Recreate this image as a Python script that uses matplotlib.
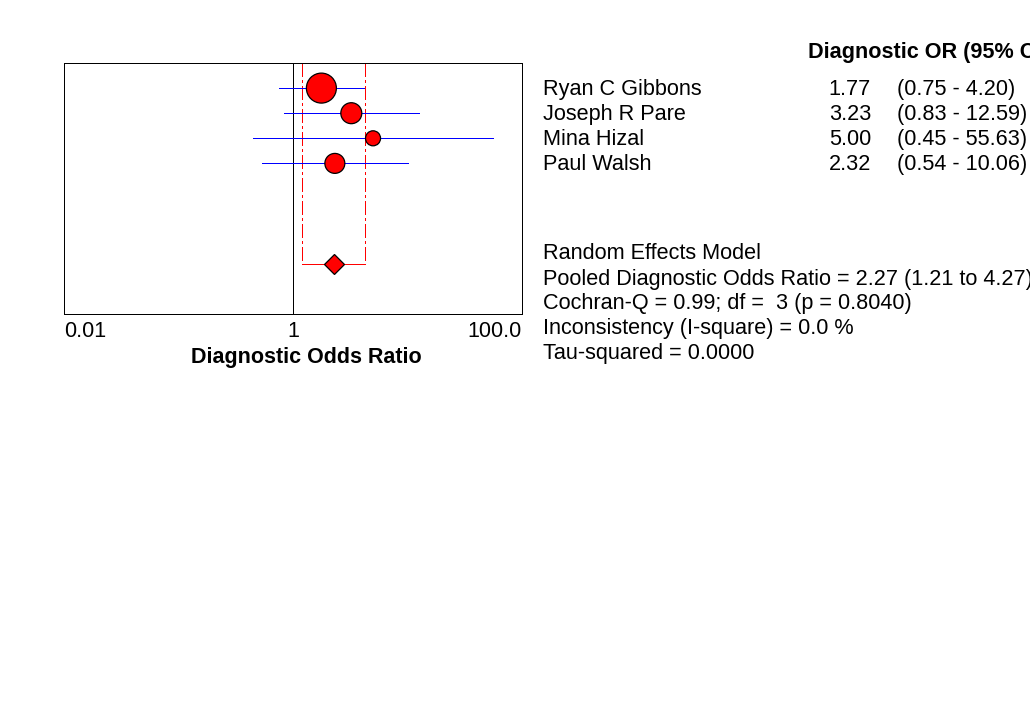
import matplotlib
matplotlib.use("Agg")
import matplotlib.pyplot as plt
import matplotlib.transforms as mtransforms
import numpy as np

plt.rcParams['font.family'] = ['Liberation Sans', 'DejaVu Sans']
plt.rcParams['lines.scale_dashes'] = False

# --------------------------------------------------------------------------
# Data
# --------------------------------------------------------------------------
studies = ["Ryan C Gibbons", "Joseph R Pare", "Mina Hizal", "Paul Walsh"]
dor = [1.77, 3.23, 5.00, 2.32]
ci_lo = [0.75, 0.83, 0.45, 0.54]
ci_hi = [4.20, 12.59, 55.63, 10.06]
weights = [45.8, 22.4, 11.5, 20.3]

pooled = 2.27
pooled_lo = 1.21
pooled_hi = 4.27
cochran_q = 0.99
q_df = 3
q_p = 0.8040
i_square = 0.0
tau_sq = 0.0

tick_values = [0.01, 1, 100]
tick_labels = ["0.01", "1", "100.0"]

# --------------------------------------------------------------------------
# Figure
# --------------------------------------------------------------------------
W, H = 1030, 726
fig = plt.figure(figsize=(W / 100, H / 100), dpi=100)
ax = fig.add_axes([64 / W, 1 - 314 / H, (522 - 64) / W, (314 - 63) / H])

px = 0.72  # one pixel in points
ypos = np.arange(1, len(studies) + 1)
y_pool = 8

ax.set_xscale('log')
ax.set_xlim(0.01, 100)
ax.set_ylim(10, 0)

# line of no effect
ax.axvline(1, color='black', lw=px, antialiased=False, zorder=1)

# pooled CI bracket
for xv in (pooled_lo, pooled_hi):
    ax.plot([xv, xv], [0, y_pool], color='red', lw=px, antialiased=False,
            dashes=(9.5, 2.2, 1.6, 2.2), zorder=1)
ax.plot([pooled_lo, pooled_hi], [y_pool, y_pool], color='red', lw=px,
        antialiased=False, zorder=1)

# study CIs and point estimates
ax.hlines(ypos, ci_lo, ci_hi, color='blue', lw=px, antialiased=False, zorder=2)
diam_pt = 4.43 * np.sqrt(np.array(weights)) * px
ax.scatter(dor, ypos, s=diam_pt ** 2, color='red', edgecolor='black',
           linewidth=0.9, zorder=3)
ax.plot([pooled], [y_pool], marker='D', ms=13.5 * px, color='red',
        mec='black', mew=0.9, zorder=3)

for sp in ax.spines.values():
    sp.set_linewidth(px)
    sp.set_antialiased(False)

ax.set_yticks([])
ax.set_xticks(tick_values)
ax.set_xticklabels(tick_labels, fontsize=15.5)
ax.minorticks_off()
ax.tick_params(axis='x', length=0, pad=5)
xl = ax.get_xticklabels()
xl[0].set_ha('left')
xl[-1].set_ha('right')

ax.set_xlabel("Diagnostic Odds Ratio", fontsize=15.5, fontweight='bold')
ax.xaxis.set_label_coords((306 - 64) / 458, -0.13)

# --------------------------------------------------------------------------
# Text table on the right
# --------------------------------------------------------------------------
tr = mtransforms.blended_transform_factory(fig.transFigure, ax.transData)
fs = 15.6
off = 0.26

ax.text(808 / W, -0.19, "Diagnostic OR (95% CI)", transform=tr, fontsize=fs,
        fontweight='bold', va='baseline', ha='left', clip_on=False)

for i, name in enumerate(studies):
    y = ypos[i] + off
    ax.text(543 / W, y, name, transform=tr, fontsize=fs, va='baseline',
            ha='left', clip_on=False)
    ax.text(871 / W, y, f"{dor[i]:.2f}", transform=tr, fontsize=fs,
            va='baseline', ha='right', clip_on=False)
    ax.text(897 / W, y, f"({ci_lo[i]:.2f} - {ci_hi[i]:.2f})", transform=tr,
            fontsize=fs, va='baseline', ha='left', clip_on=False)

summary = [
    "Random Effects Model",
    f"Pooled Diagnostic Odds Ratio = {pooled:.2f} ({pooled_lo:.2f} to {pooled_hi:.2f})",
    f"Cochran-Q = {cochran_q:.2f}; df =  {q_df} (p = {q_p:.4f})",
    f"Inconsistency (I-square) = {i_square:.1f} %",
    f"Tau-squared = {tau_sq:.4f}",
]
sum_y = [7.82, 8.85, 9.82, 10.8, 11.8]
for yv, line in zip(sum_y, summary):
    ax.text(543 / W, yv, line, transform=tr, fontsize=fs, va='baseline',
            ha='left', clip_on=False)

fig.savefig("out.png", dpi=100, facecolor='white')
